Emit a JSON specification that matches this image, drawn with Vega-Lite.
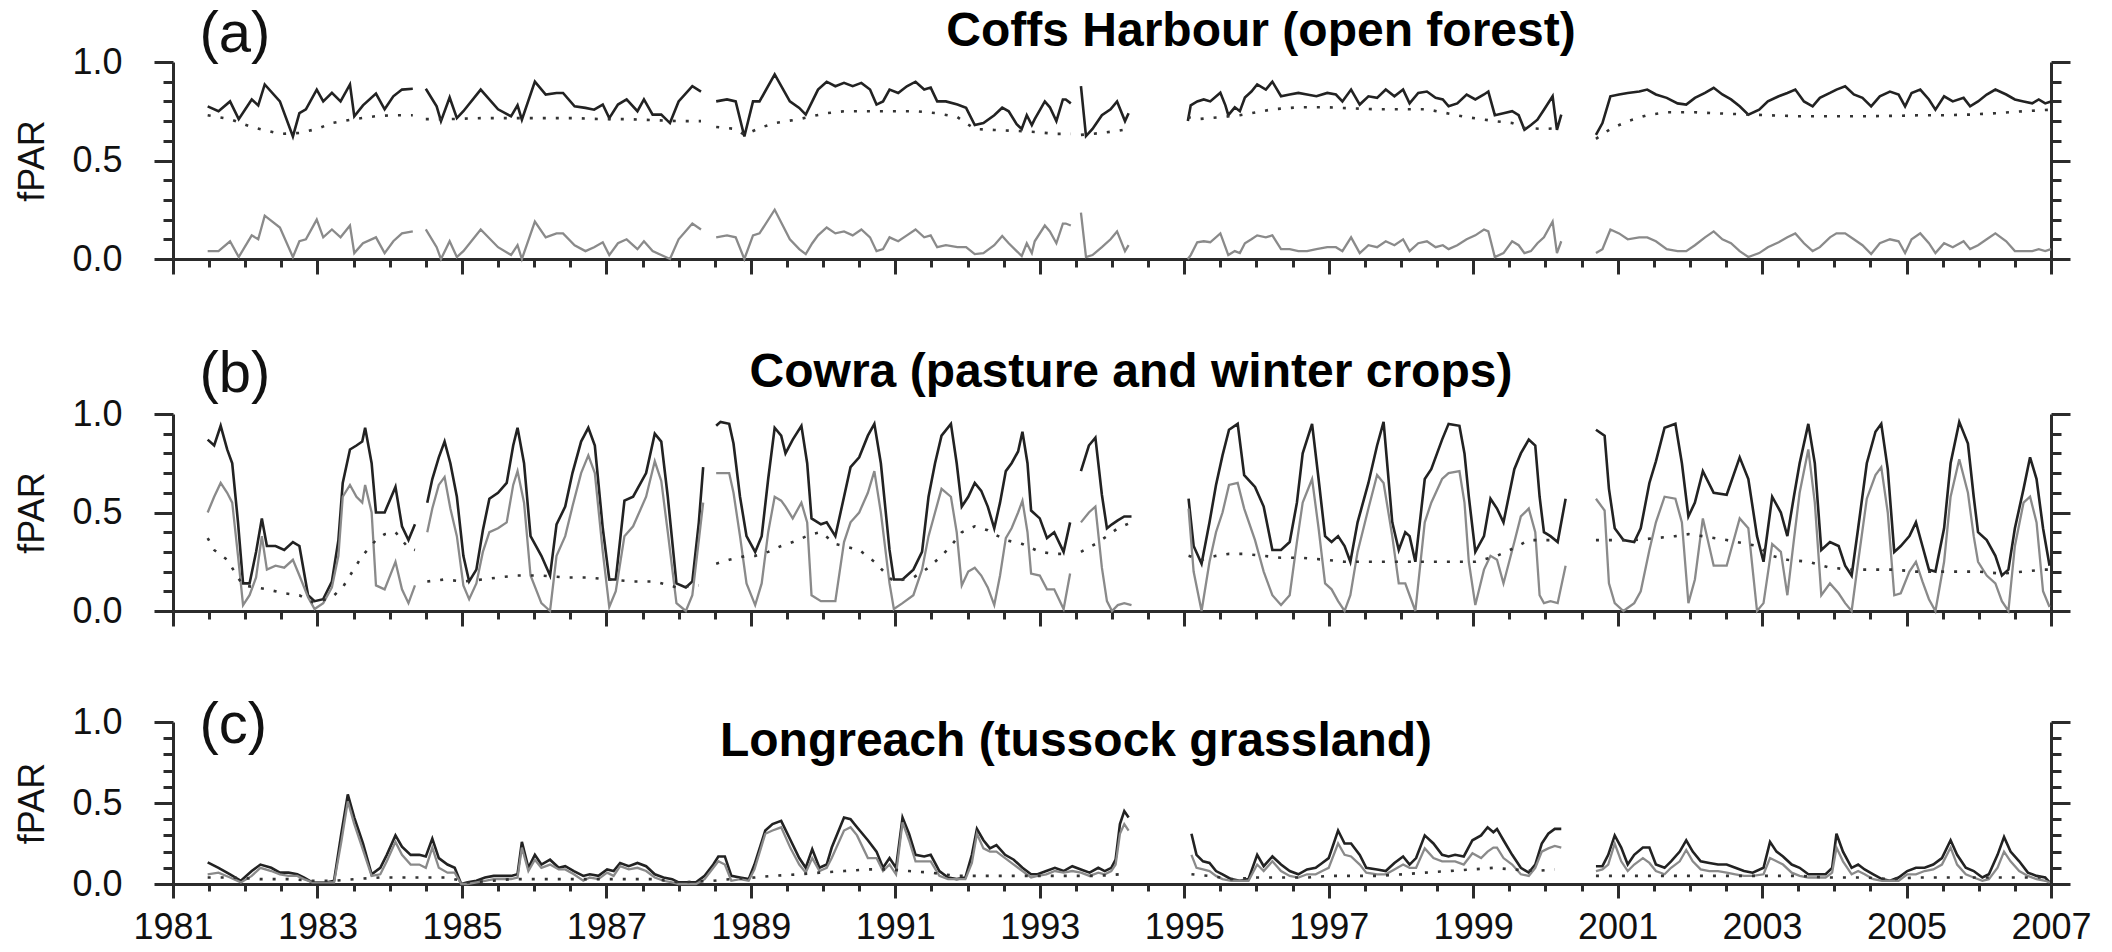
{
"$schema":"https://vega.github.io/schema/vega-lite/v6.json",
"background":"white",
"padding":{"left":14,"top":5,"right":5,"bottom":5},
"config":{"font":"Liberation Sans","view":{"stroke":null},
"axis":{"grid":false,"domainColor":"#2b2b2b","domainWidth":3,"tickColor":"#2b2b2b","tickWidth":3,"labelFont":"Liberation Sans","labelFontSize":36,"labelColor":"#111","titleFont":"Liberation Sans","titleColor":"#111","titleFontWeight":"normal","labelFlush":false,"labelOverlap":false,"labelBound":false},
"title":{"font":"Liberation Sans","fontSize":48,"fontWeight":"bold","color":"#000","anchor":"middle","offset":4}},
"data":{"values":[
{"p":"a","s":1,"t":1981.48,"T":0.775,"R":0.04,"P":0.73},
{"p":"a","s":1,"t":1981.63,"T":0.75,"R":0.04},
{"p":"a","s":1,"t":1981.79,"T":0.80,"R":0.09,"P":0.71},
{"p":"a","s":1,"t":1981.91,"T":0.71,"R":0.01},
{"p":"a","s":1,"t":1982.09,"T":0.81,"R":0.12,"P":0.67},
{"p":"a","s":1,"t":1982.18,"T":0.78,"R":0.10},
{"p":"a","s":1,"t":1982.27,"T":0.886,"R":0.22},
{"p":"a","s":1,"t":1982.48,"T":0.80,"R":0.16,"P":0.635},
{"p":"a","s":1,"t":1982.66,"T":0.622,"R":0.01},
{"p":"a","s":1,"t":1982.75,"T":0.74,"R":0.09,"P":0.64},
{"p":"a","s":1,"t":1982.84,"T":0.76,"R":0.10},
{"p":"a","s":1,"t":1982.99,"T":0.86,"R":0.20,"P":0.66},
{"p":"a","s":1,"t":1983.08,"T":0.80,"R":0.11},
{"p":"a","s":1,"t":1983.20,"T":0.843,"R":0.15,"P":0.69},
{"p":"a","s":1,"t":1983.32,"T":0.80,"R":0.11},
{"p":"a","s":1,"t":1983.45,"T":0.886,"R":0.17},
{"p":"a","s":1,"t":1983.51,"T":0.724,"R":0.03,"P":0.71},
{"p":"a","s":1,"t":1983.63,"T":0.78,"R":0.08},
{"p":"a","s":1,"t":1983.81,"T":0.84,"R":0.11,"P":0.725},
{"p":"a","s":1,"t":1983.93,"T":0.76,"R":0.03},
{"p":"a","s":1,"t":1984.05,"T":0.826,"R":0.09,"P":0.73},
{"p":"a","s":1,"t":1984.17,"T":0.86,"R":0.13},
{"p":"a","s":1,"t":1984.32,"T":0.864,"R":0.14,"P":0.73},
{"p":"a","s":2,"t":1984.50,"T":0.864,"R":0.15,"P":0.71},
{"p":"a","s":2,"t":1984.65,"T":0.775,"R":0.06},
{"p":"a","s":2,"t":1984.71,"T":0.70,"R":0.0},
{"p":"a","s":2,"t":1984.83,"T":0.82,"R":0.09,"P":0.71},
{"p":"a","s":2,"t":1984.93,"T":0.715,"R":0.01},
{"p":"a","s":2,"t":1985.02,"T":0.75,"R":0.04},
{"p":"a","s":2,"t":1985.26,"T":0.86,"R":0.15,"P":0.715},
{"p":"a","s":2,"t":1985.50,"T":0.76,"R":0.06},
{"p":"a","s":2,"t":1985.68,"T":0.724,"R":0.02},
{"p":"a","s":2,"t":1985.77,"T":0.78,"R":0.07,"P":0.715},
{"p":"a","s":2,"t":1985.83,"T":0.707,"R":0.0},
{"p":"a","s":2,"t":1986.01,"T":0.90,"R":0.19},
{"p":"a","s":2,"t":1986.16,"T":0.835,"R":0.11,"P":0.715},
{"p":"a","s":2,"t":1986.31,"T":0.843,"R":0.13},
{"p":"a","s":2,"t":1986.40,"T":0.843,"R":0.13},
{"p":"a","s":2,"t":1986.56,"T":0.775,"R":0.07,"P":0.715},
{"p":"a","s":2,"t":1986.71,"T":0.767,"R":0.04},
{"p":"a","s":2,"t":1986.83,"T":0.758,"R":0.06},
{"p":"a","s":2,"t":1986.95,"T":0.784,"R":0.085,"P":0.71},
{"p":"a","s":2,"t":1987.04,"T":0.715,"R":0.02},
{"p":"a","s":2,"t":1987.16,"T":0.784,"R":0.08},
{"p":"a","s":2,"t":1987.28,"T":0.81,"R":0.10,"P":0.71},
{"p":"a","s":2,"t":1987.43,"T":0.75,"R":0.05},
{"p":"a","s":2,"t":1987.52,"T":0.81,"R":0.09},
{"p":"a","s":2,"t":1987.64,"T":0.733,"R":0.04,"P":0.705},
{"p":"a","s":2,"t":1987.76,"T":0.733,"R":0.02},
{"p":"a","s":2,"t":1987.88,"T":0.69,"R":0.0},
{"p":"a","s":2,"t":1988.00,"T":0.80,"R":0.10,"P":0.70},
{"p":"a","s":2,"t":1988.19,"T":0.877,"R":0.18},
{"p":"a","s":2,"t":1988.31,"T":0.85,"R":0.15,"P":0.70},
{"p":"a","s":3,"t":1988.52,"T":0.80,"R":0.11,"P":0.67},
{"p":"a","s":3,"t":1988.67,"T":0.81,"R":0.12},
{"p":"a","s":3,"t":1988.79,"T":0.80,"R":0.11,"P":0.66},
{"p":"a","s":3,"t":1988.91,"T":0.622,"R":0.0,"P":0.63},
{"p":"a","s":3,"t":1989.03,"T":0.80,"R":0.12},
{"p":"a","s":3,"t":1989.12,"T":0.80,"R":0.13,"P":0.665},
{"p":"a","s":3,"t":1989.33,"T":0.937,"R":0.25,"P":0.69},
{"p":"a","s":3,"t":1989.54,"T":0.80,"R":0.10},
{"p":"a","s":3,"t":1989.67,"T":0.767,"R":0.05,"P":0.71},
{"p":"a","s":3,"t":1989.76,"T":0.733,"R":0.025},
{"p":"a","s":3,"t":1989.85,"T":0.80,"R":0.08,"P":0.725},
{"p":"a","s":3,"t":1989.93,"T":0.86,"R":0.12},
{"p":"a","s":3,"t":1990.05,"T":0.90,"R":0.16,"P":0.74},
{"p":"a","s":3,"t":1990.17,"T":0.877,"R":0.13},
{"p":"a","s":3,"t":1990.29,"T":0.894,"R":0.14,"P":0.75},
{"p":"a","s":3,"t":1990.41,"T":0.877,"R":0.12},
{"p":"a","s":3,"t":1990.53,"T":0.894,"R":0.15},
{"p":"a","s":3,"t":1990.65,"T":0.86,"R":0.11,"P":0.75},
{"p":"a","s":3,"t":1990.74,"T":0.784,"R":0.04},
{"p":"a","s":3,"t":1990.83,"T":0.80,"R":0.05},
{"p":"a","s":3,"t":1990.92,"T":0.86,"R":0.11,"P":0.75},
{"p":"a","s":3,"t":1991.04,"T":0.843,"R":0.09},
{"p":"a","s":3,"t":1991.16,"T":0.877,"R":0.12},
{"p":"a","s":3,"t":1991.28,"T":0.90,"R":0.15,"P":0.75},
{"p":"a","s":3,"t":1991.40,"T":0.86,"R":0.11},
{"p":"a","s":3,"t":1991.49,"T":0.87,"R":0.12},
{"p":"a","s":3,"t":1991.58,"T":0.80,"R":0.06,"P":0.74},
{"p":"a","s":3,"t":1991.70,"T":0.80,"R":0.07},
{"p":"a","s":3,"t":1991.86,"T":0.784,"R":0.06,"P":0.72},
{"p":"a","s":3,"t":1991.98,"T":0.767,"R":0.06},
{"p":"a","s":3,"t":1992.10,"T":0.68,"R":0.025,"P":0.66},
{"p":"a","s":3,"t":1992.22,"T":0.69,"R":0.03},
{"p":"a","s":3,"t":1992.37,"T":0.73,"R":0.07,"P":0.655},
{"p":"a","s":3,"t":1992.48,"T":0.768,"R":0.117},
{"p":"a","s":3,"t":1992.57,"T":0.75,"R":0.08},
{"p":"a","s":3,"t":1992.68,"T":0.684,"R":0.04,"P":0.65},
{"p":"a","s":3,"t":1992.75,"T":0.66,"R":0.015},
{"p":"a","s":3,"t":1992.82,"T":0.73,"R":0.08},
{"p":"a","s":3,"t":1992.89,"T":0.68,"R":0.03},
{"p":"a","s":3,"t":1992.93,"T":0.71,"R":0.09,"P":0.645},
{"p":"a","s":3,"t":1993.07,"T":0.80,"R":0.17},
{"p":"a","s":3,"t":1993.14,"T":0.77,"R":0.14},
{"p":"a","s":3,"t":1993.23,"T":0.70,"R":0.08,"P":0.635},
{"p":"a","s":3,"t":1993.32,"T":0.81,"R":0.18},
{"p":"a","s":3,"t":1993.36,"T":0.81,"R":0.18},
{"p":"a","s":3,"t":1993.43,"T":0.79,"R":0.17,"P":0.635},
{"p":"a","s":4,"t":1993.57,"T":0.878,"R":0.235,"P":0.63},
{"p":"a","s":4,"t":1993.64,"T":0.624,"R":0.01},
{"p":"a","s":4,"t":1993.73,"T":0.66,"R":0.02},
{"p":"a","s":4,"t":1993.86,"T":0.73,"R":0.06,"P":0.64},
{"p":"a","s":4,"t":1993.98,"T":0.76,"R":0.10},
{"p":"a","s":4,"t":1994.07,"T":0.80,"R":0.14,"P":0.65},
{"p":"a","s":4,"t":1994.18,"T":0.70,"R":0.04},
{"p":"a","s":4,"t":1994.23,"T":0.74,"R":0.07,"P":0.66},
{"p":"a","s":5,"t":1995.05,"T":0.70,"R":0.0,"P":0.72},
{"p":"a","s":5,"t":1995.09,"T":0.78,"R":0.02},
{"p":"a","s":5,"t":1995.18,"T":0.80,"R":0.085,"P":0.71},
{"p":"a","s":5,"t":1995.27,"T":0.81,"R":0.09},
{"p":"a","s":5,"t":1995.36,"T":0.80,"R":0.085},
{"p":"a","s":5,"t":1995.50,"T":0.844,"R":0.13,"P":0.72},
{"p":"a","s":5,"t":1995.57,"T":0.78,"R":0.06},
{"p":"a","s":5,"t":1995.61,"T":0.73,"R":0.02},
{"p":"a","s":5,"t":1995.70,"T":0.77,"R":0.04},
{"p":"a","s":5,"t":1995.77,"T":0.75,"R":0.03,"P":0.73},
{"p":"a","s":5,"t":1995.84,"T":0.82,"R":0.08},
{"p":"a","s":5,"t":1995.93,"T":0.85,"R":0.10,"P":0.74},
{"p":"a","s":5,"t":1996.01,"T":0.886,"R":0.12},
{"p":"a","s":5,"t":1996.13,"T":0.86,"R":0.11},
{"p":"a","s":5,"t":1996.22,"T":0.90,"R":0.12,"P":0.76},
{"p":"a","s":5,"t":1996.34,"T":0.826,"R":0.05},
{"p":"a","s":5,"t":1996.46,"T":0.835,"R":0.05},
{"p":"a","s":5,"t":1996.58,"T":0.843,"R":0.04,"P":0.77},
{"p":"a","s":5,"t":1996.70,"T":0.835,"R":0.04},
{"p":"a","s":5,"t":1996.83,"T":0.826,"R":0.05},
{"p":"a","s":5,"t":1996.98,"T":0.843,"R":0.06,"P":0.77},
{"p":"a","s":5,"t":1997.10,"T":0.835,"R":0.06},
{"p":"a","s":5,"t":1997.19,"T":0.80,"R":0.04},
{"p":"a","s":5,"t":1997.31,"T":0.86,"R":0.11,"P":0.765},
{"p":"a","s":5,"t":1997.43,"T":0.784,"R":0.03},
{"p":"a","s":5,"t":1997.55,"T":0.826,"R":0.07},
{"p":"a","s":5,"t":1997.67,"T":0.818,"R":0.06,"P":0.76},
{"p":"a","s":5,"t":1997.79,"T":0.86,"R":0.09},
{"p":"a","s":5,"t":1997.91,"T":0.826,"R":0.07},
{"p":"a","s":5,"t":1998.03,"T":0.86,"R":0.10,"P":0.76},
{"p":"a","s":5,"t":1998.12,"T":0.79,"R":0.04},
{"p":"a","s":5,"t":1998.24,"T":0.843,"R":0.08},
{"p":"a","s":5,"t":1998.36,"T":0.85,"R":0.09,"P":0.76},
{"p":"a","s":5,"t":1998.48,"T":0.818,"R":0.06},
{"p":"a","s":5,"t":1998.58,"T":0.81,"R":0.07},
{"p":"a","s":5,"t":1998.66,"T":0.775,"R":0.05},
{"p":"a","s":5,"t":1998.78,"T":0.79,"R":0.07},
{"p":"a","s":5,"t":1998.91,"T":0.835,"R":0.10,"P":0.72},
{"p":"a","s":5,"t":1999.03,"T":0.81,"R":0.12},
{"p":"a","s":5,"t":1999.15,"T":0.835,"R":0.15},
{"p":"a","s":5,"t":1999.21,"T":0.85,"R":0.14},
{"p":"a","s":5,"t":1999.30,"T":0.73,"R":0.01,"P":0.70},
{"p":"a","s":5,"t":1999.42,"T":0.74,"R":0.03},
{"p":"a","s":5,"t":1999.54,"T":0.75,"R":0.09,"P":0.69},
{"p":"a","s":5,"t":1999.63,"T":0.73,"R":0.07},
{"p":"a","s":5,"t":1999.71,"T":0.656,"R":0.03,"P":0.665},
{"p":"a","s":5,"t":1999.80,"T":0.68,"R":0.04},
{"p":"a","s":5,"t":1999.89,"T":0.707,"R":0.08},
{"p":"a","s":5,"t":1999.98,"T":0.758,"R":0.11,"P":0.66},
{"p":"a","s":5,"t":2000.10,"T":0.826,"R":0.19},
{"p":"a","s":5,"t":2000.16,"T":0.656,"R":0.03},
{"p":"a","s":5,"t":2000.22,"T":0.733,"R":0.09,"P":0.665},
{"p":"a","s":6,"t":2000.70,"T":0.63,"R":0.03,"P":0.61},
{"p":"a","s":6,"t":2000.79,"T":0.69,"R":0.05},
{"p":"a","s":6,"t":2000.90,"T":0.826,"R":0.15,"P":0.66},
{"p":"a","s":6,"t":2001.02,"T":0.835,"R":0.13},
{"p":"a","s":6,"t":2001.14,"T":0.843,"R":0.10,"P":0.70},
{"p":"a","s":6,"t":2001.30,"T":0.85,"R":0.11},
{"p":"a","s":6,"t":2001.41,"T":0.86,"R":0.11,"P":0.73},
{"p":"a","s":6,"t":2001.53,"T":0.835,"R":0.09},
{"p":"a","s":6,"t":2001.68,"T":0.818,"R":0.05,"P":0.745},
{"p":"a","s":6,"t":2001.83,"T":0.79,"R":0.04},
{"p":"a","s":6,"t":2001.95,"T":0.784,"R":0.04},
{"p":"a","s":6,"t":2002.07,"T":0.818,"R":0.07,"P":0.745},
{"p":"a","s":6,"t":2002.21,"T":0.843,"R":0.11},
{"p":"a","s":6,"t":2002.33,"T":0.869,"R":0.14,"P":0.74},
{"p":"a","s":6,"t":2002.45,"T":0.835,"R":0.10},
{"p":"a","s":6,"t":2002.57,"T":0.81,"R":0.08},
{"p":"a","s":6,"t":2002.69,"T":0.775,"R":0.04,"P":0.735},
{"p":"a","s":6,"t":2002.81,"T":0.733,"R":0.01},
{"p":"a","s":6,"t":2002.96,"T":0.758,"R":0.03},
{"p":"a","s":6,"t":2003.08,"T":0.80,"R":0.06,"P":0.73},
{"p":"a","s":6,"t":2003.23,"T":0.826,"R":0.085},
{"p":"a","s":6,"t":2003.35,"T":0.843,"R":0.11},
{"p":"a","s":6,"t":2003.46,"T":0.86,"R":0.13,"P":0.725},
{"p":"a","s":6,"t":2003.58,"T":0.80,"R":0.08},
{"p":"a","s":6,"t":2003.70,"T":0.775,"R":0.04},
{"p":"a","s":6,"t":2003.80,"T":0.818,"R":0.06,"P":0.725},
{"p":"a","s":6,"t":2003.94,"T":0.843,"R":0.11},
{"p":"a","s":6,"t":2004.03,"T":0.86,"R":0.13},
{"p":"a","s":6,"t":2004.15,"T":0.877,"R":0.13,"P":0.725},
{"p":"a","s":6,"t":2004.27,"T":0.835,"R":0.10},
{"p":"a","s":6,"t":2004.39,"T":0.818,"R":0.07},
{"p":"a","s":6,"t":2004.51,"T":0.775,"R":0.025,"P":0.725},
{"p":"a","s":6,"t":2004.63,"T":0.826,"R":0.08},
{"p":"a","s":6,"t":2004.77,"T":0.85,"R":0.10},
{"p":"a","s":6,"t":2004.89,"T":0.835,"R":0.09,"P":0.727},
{"p":"a","s":6,"t":2004.98,"T":0.775,"R":0.03},
{"p":"a","s":6,"t":2005.07,"T":0.843,"R":0.10},
{"p":"a","s":6,"t":2005.19,"T":0.86,"R":0.13,"P":0.73},
{"p":"a","s":6,"t":2005.31,"T":0.81,"R":0.08},
{"p":"a","s":6,"t":2005.40,"T":0.758,"R":0.03},
{"p":"a","s":6,"t":2005.52,"T":0.826,"R":0.08,"P":0.73},
{"p":"a","s":6,"t":2005.64,"T":0.80,"R":0.06},
{"p":"a","s":6,"t":2005.79,"T":0.818,"R":0.09},
{"p":"a","s":6,"t":2005.88,"T":0.775,"R":0.05,"P":0.733},
{"p":"a","s":6,"t":2005.99,"T":0.80,"R":0.07},
{"p":"a","s":6,"t":2006.11,"T":0.835,"R":0.10},
{"p":"a","s":6,"t":2006.23,"T":0.86,"R":0.13,"P":0.74},
{"p":"a","s":6,"t":2006.38,"T":0.835,"R":0.09},
{"p":"a","s":6,"t":2006.50,"T":0.81,"R":0.04},
{"p":"a","s":6,"t":2006.62,"T":0.80,"R":0.04,"P":0.75},
{"p":"a","s":6,"t":2006.74,"T":0.79,"R":0.04},
{"p":"a","s":6,"t":2006.83,"T":0.81,"R":0.05},
{"p":"a","s":6,"t":2006.92,"T":0.79,"R":0.04},
{"p":"a","s":6,"t":2007.00,"T":0.80,"R":0.05,"P":0.758},
{"p":"b","s":1,"t":1981.48,"T":0.87,"R":0.50,"P":0.37},
{"p":"b","s":1,"t":1981.57,"T":0.84,"R":0.58,"P":0.31},
{"p":"b","s":1,"t":1981.66,"T":0.94,"R":0.65},
{"p":"b","s":1,"t":1981.75,"T":0.82,"R":0.60,"P":0.26},
{"p":"b","s":1,"t":1981.82,"T":0.75,"R":0.55},
{"p":"b","s":1,"t":1981.90,"T":0.45,"R":0.28,"P":0.17},
{"p":"b","s":1,"t":1981.97,"T":0.14,"R":0.03,"P":0.13},
{"p":"b","s":1,"t":1982.06,"T":0.14,"R":0.08},
{"p":"b","s":1,"t":1982.15,"T":0.30,"R":0.17,"P":0.12},
{"p":"b","s":1,"t":1982.23,"T":0.47,"R":0.38},
{"p":"b","s":1,"t":1982.30,"T":0.33,"R":0.21,"P":0.11},
{"p":"b","s":1,"t":1982.42,"T":0.33,"R":0.23},
{"p":"b","s":1,"t":1982.54,"T":0.31,"R":0.22,"P":0.09},
{"p":"b","s":1,"t":1982.66,"T":0.35,"R":0.26},
{"p":"b","s":1,"t":1982.75,"T":0.33,"R":0.18,"P":0.08},
{"p":"b","s":1,"t":1982.87,"T":0.08,"R":0.07},
{"p":"b","s":1,"t":1982.96,"T":0.05,"R":0.01,"P":0.04},
{"p":"b","s":1,"t":1983.08,"T":0.06,"R":0.04},
{"p":"b","s":1,"t":1983.20,"T":0.15,"R":0.12,"P":0.07},
{"p":"b","s":1,"t":1983.29,"T":0.36,"R":0.28},
{"p":"b","s":1,"t":1983.35,"T":0.65,"R":0.58,"P":0.12},
{"p":"b","s":1,"t":1983.45,"T":0.82,"R":0.64,"P":0.18},
{"p":"b","s":1,"t":1983.54,"T":0.84,"R":0.58},
{"p":"b","s":1,"t":1983.62,"T":0.86,"R":0.55,"P":0.28},
{"p":"b","s":1,"t":1983.66,"T":0.93,"R":0.64},
{"p":"b","s":1,"t":1983.75,"T":0.75,"R":0.50},
{"p":"b","s":1,"t":1983.81,"T":0.50,"R":0.13,"P":0.36},
{"p":"b","s":1,"t":1983.93,"T":0.50,"R":0.11,"P":0.39},
{"p":"b","s":1,"t":1984.08,"T":0.63,"R":0.25,"P":0.40},
{"p":"b","s":1,"t":1984.17,"T":0.43,"R":0.11},
{"p":"b","s":1,"t":1984.26,"T":0.36,"R":0.04,"P":0.32},
{"p":"b","s":1,"t":1984.35,"T":0.44,"R":0.13,"P":0.31},
{"p":"b","s":2,"t":1984.52,"T":0.55,"R":0.40,"P":0.15},
{"p":"b","s":2,"t":1984.59,"T":0.67,"R":0.52},
{"p":"b","s":2,"t":1984.68,"T":0.78,"R":0.64},
{"p":"b","s":2,"t":1984.76,"T":0.86,"R":0.68,"P":0.16},
{"p":"b","s":2,"t":1984.84,"T":0.75,"R":0.52},
{"p":"b","s":2,"t":1984.93,"T":0.58,"R":0.38},
{"p":"b","s":2,"t":1985.02,"T":0.28,"R":0.13,"P":0.15},
{"p":"b","s":2,"t":1985.10,"T":0.15,"R":0.06},
{"p":"b","s":2,"t":1985.20,"T":0.21,"R":0.14},
{"p":"b","s":2,"t":1985.29,"T":0.41,"R":0.30,"P":0.16},
{"p":"b","s":2,"t":1985.38,"T":0.57,"R":0.40},
{"p":"b","s":2,"t":1985.50,"T":0.60,"R":0.42,"P":0.17},
{"p":"b","s":2,"t":1985.62,"T":0.65,"R":0.45},
{"p":"b","s":2,"t":1985.71,"T":0.84,"R":0.64},
{"p":"b","s":2,"t":1985.77,"T":0.93,"R":0.71,"P":0.18},
{"p":"b","s":2,"t":1985.86,"T":0.75,"R":0.55},
{"p":"b","s":2,"t":1985.95,"T":0.38,"R":0.18},
{"p":"b","s":2,"t":1986.10,"T":0.28,"R":0.04,"P":0.18},
{"p":"b","s":2,"t":1986.22,"T":0.18,"R":0.0},
{"p":"b","s":2,"t":1986.31,"T":0.44,"R":0.28},
{"p":"b","s":2,"t":1986.43,"T":0.53,"R":0.38,"P":0.17},
{"p":"b","s":2,"t":1986.53,"T":0.70,"R":0.53},
{"p":"b","s":2,"t":1986.65,"T":0.86,"R":0.70},
{"p":"b","s":2,"t":1986.75,"T":0.93,"R":0.79,"P":0.17},
{"p":"b","s":2,"t":1986.84,"T":0.84,"R":0.70},
{"p":"b","s":2,"t":1986.95,"T":0.42,"R":0.30},
{"p":"b","s":2,"t":1987.04,"T":0.16,"R":0.02,"P":0.16},
{"p":"b","s":2,"t":1987.13,"T":0.16,"R":0.10},
{"p":"b","s":2,"t":1987.25,"T":0.56,"R":0.38},
{"p":"b","s":2,"t":1987.37,"T":0.58,"R":0.43,"P":0.15},
{"p":"b","s":2,"t":1987.55,"T":0.70,"R":0.58},
{"p":"b","s":2,"t":1987.67,"T":0.90,"R":0.76,"P":0.15},
{"p":"b","s":2,"t":1987.76,"T":0.86,"R":0.66},
{"p":"b","s":2,"t":1987.85,"T":0.58,"R":0.40},
{"p":"b","s":2,"t":1987.97,"T":0.14,"R":0.04,"P":0.12},
{"p":"b","s":2,"t":1988.10,"T":0.12,"R":0.0},
{"p":"b","s":2,"t":1988.19,"T":0.15,"R":0.08},
{"p":"b","s":2,"t":1988.28,"T":0.45,"R":0.36,"P":0.13},
{"p":"b","s":2,"t":1988.34,"T":0.73,"R":0.55},
{"p":"b","s":3,"t":1988.52,"T":0.94,"R":0.70,"P":0.24},
{"p":"b","s":3,"t":1988.58,"T":0.96,"R":0.70},
{"p":"b","s":3,"t":1988.70,"T":0.95,"R":0.70,"P":0.26},
{"p":"b","s":3,"t":1988.76,"T":0.85,"R":0.60},
{"p":"b","s":3,"t":1988.85,"T":0.58,"R":0.38},
{"p":"b","s":3,"t":1988.94,"T":0.38,"R":0.14,"P":0.28},
{"p":"b","s":3,"t":1989.06,"T":0.30,"R":0.03,"P":0.28},
{"p":"b","s":3,"t":1989.15,"T":0.38,"R":0.14},
{"p":"b","s":3,"t":1989.24,"T":0.67,"R":0.40,"P":0.30},
{"p":"b","s":3,"t":1989.33,"T":0.93,"R":0.58},
{"p":"b","s":3,"t":1989.42,"T":0.89,"R":0.56,"P":0.33},
{"p":"b","s":3,"t":1989.48,"T":0.80,"R":0.53},
{"p":"b","s":3,"t":1989.58,"T":0.87,"R":0.47,"P":0.35},
{"p":"b","s":3,"t":1989.70,"T":0.94,"R":0.55},
{"p":"b","s":3,"t":1989.78,"T":0.75,"R":0.45},
{"p":"b","s":3,"t":1989.84,"T":0.47,"R":0.08,"P":0.39},
{"p":"b","s":3,"t":1989.97,"T":0.44,"R":0.05,"P":0.40},
{"p":"b","s":3,"t":1990.05,"T":0.45,"R":0.05},
{"p":"b","s":3,"t":1990.17,"T":0.38,"R":0.05,"P":0.34},
{"p":"b","s":3,"t":1990.29,"T":0.58,"R":0.35},
{"p":"b","s":3,"t":1990.38,"T":0.73,"R":0.45},
{"p":"b","s":3,"t":1990.50,"T":0.78,"R":0.50,"P":0.31},
{"p":"b","s":3,"t":1990.62,"T":0.89,"R":0.60},
{"p":"b","s":3,"t":1990.71,"T":0.95,"R":0.71,"P":0.25},
{"p":"b","s":3,"t":1990.80,"T":0.75,"R":0.50},
{"p":"b","s":3,"t":1990.92,"T":0.31,"R":0.14,"P":0.17},
{"p":"b","s":3,"t":1990.98,"T":0.16,"R":0.01,"P":0.15},
{"p":"b","s":3,"t":1991.10,"T":0.16,"R":0.04},
{"p":"b","s":3,"t":1991.25,"T":0.21,"R":0.08,"P":0.17},
{"p":"b","s":3,"t":1991.37,"T":0.30,"R":0.21},
{"p":"b","s":3,"t":1991.46,"T":0.58,"R":0.38,"P":0.22},
{"p":"b","s":3,"t":1991.55,"T":0.75,"R":0.50},
{"p":"b","s":3,"t":1991.64,"T":0.89,"R":0.62,"P":0.28},
{"p":"b","s":3,"t":1991.77,"T":0.95,"R":0.58,"P":0.33},
{"p":"b","s":3,"t":1991.85,"T":0.75,"R":0.40},
{"p":"b","s":3,"t":1991.92,"T":0.53,"R":0.13,"P":0.40},
{"p":"b","s":3,"t":1992.01,"T":0.58,"R":0.20},
{"p":"b","s":3,"t":1992.10,"T":0.65,"R":0.22,"P":0.43},
{"p":"b","s":3,"t":1992.19,"T":0.61,"R":0.18},
{"p":"b","s":3,"t":1992.28,"T":0.53,"R":0.12,"P":0.41},
{"p":"b","s":3,"t":1992.37,"T":0.42,"R":0.03,"P":0.39},
{"p":"b","s":3,"t":1992.45,"T":0.55,"R":0.18},
{"p":"b","s":3,"t":1992.53,"T":0.71,"R":0.37,"P":0.36},
{"p":"b","s":3,"t":1992.61,"T":0.75,"R":0.42},
{"p":"b","s":3,"t":1992.70,"T":0.81,"R":0.50},
{"p":"b","s":3,"t":1992.76,"T":0.91,"R":0.56,"P":0.34},
{"p":"b","s":3,"t":1992.83,"T":0.75,"R":0.40},
{"p":"b","s":3,"t":1992.88,"T":0.51,"R":0.19,"P":0.32},
{"p":"b","s":3,"t":1993.00,"T":0.47,"R":0.18,"P":0.30},
{"p":"b","s":3,"t":1993.10,"T":0.37,"R":0.11},
{"p":"b","s":3,"t":1993.20,"T":0.40,"R":0.11,"P":0.29},
{"p":"b","s":3,"t":1993.33,"T":0.30,"R":0.01},
{"p":"b","s":3,"t":1993.42,"T":0.45,"R":0.19,"P":0.29},
{"p":"b","s":4,"t":1993.57,"T":0.71,"R":0.45,"P":0.30},
{"p":"b","s":4,"t":1993.68,"T":0.84,"R":0.50},
{"p":"b","s":4,"t":1993.77,"T":0.88,"R":0.53,"P":0.34},
{"p":"b","s":4,"t":1993.86,"T":0.59,"R":0.22},
{"p":"b","s":4,"t":1993.93,"T":0.42,"R":0.05,"P":0.38},
{"p":"b","s":4,"t":1994.00,"T":0.44,"R":0.0},
{"p":"b","s":4,"t":1994.08,"T":0.46,"R":0.03,"P":0.42},
{"p":"b","s":4,"t":1994.17,"T":0.48,"R":0.04},
{"p":"b","s":4,"t":1994.27,"T":0.48,"R":0.03,"P":0.45},
{"p":"b","s":5,"t":1995.06,"T":0.57,"R":0.52,"P":0.28},
{"p":"b","s":5,"t":1995.13,"T":0.33,"R":0.20},
{"p":"b","s":5,"t":1995.24,"T":0.24,"R":0.0,"P":0.26},
{"p":"b","s":5,"t":1995.35,"T":0.45,"R":0.25},
{"p":"b","s":5,"t":1995.44,"T":0.64,"R":0.40,"P":0.28},
{"p":"b","s":5,"t":1995.53,"T":0.79,"R":0.50},
{"p":"b","s":5,"t":1995.62,"T":0.92,"R":0.64,"P":0.29},
{"p":"b","s":5,"t":1995.74,"T":0.95,"R":0.65},
{"p":"b","s":5,"t":1995.83,"T":0.69,"R":0.52,"P":0.29},
{"p":"b","s":5,"t":1995.98,"T":0.63,"R":0.36},
{"p":"b","s":5,"t":1996.10,"T":0.53,"R":0.20,"P":0.28},
{"p":"b","s":5,"t":1996.22,"T":0.31,"R":0.08},
{"p":"b","s":5,"t":1996.34,"T":0.31,"R":0.03,"P":0.27},
{"p":"b","s":5,"t":1996.46,"T":0.35,"R":0.08},
{"p":"b","s":5,"t":1996.56,"T":0.55,"R":0.35},
{"p":"b","s":5,"t":1996.64,"T":0.80,"R":0.55,"P":0.27},
{"p":"b","s":5,"t":1996.77,"T":0.95,"R":0.67},
{"p":"b","s":5,"t":1996.86,"T":0.67,"R":0.42},
{"p":"b","s":5,"t":1996.95,"T":0.38,"R":0.14,"P":0.26},
{"p":"b","s":5,"t":1997.04,"T":0.35,"R":0.11},
{"p":"b","s":5,"t":1997.13,"T":0.38,"R":0.05},
{"p":"b","s":5,"t":1997.22,"T":0.33,"R":0.0,"P":0.25},
{"p":"b","s":5,"t":1997.30,"T":0.25,"R":0.08},
{"p":"b","s":5,"t":1997.40,"T":0.45,"R":0.30},
{"p":"b","s":5,"t":1997.55,"T":0.65,"R":0.52,"P":0.25},
{"p":"b","s":5,"t":1997.67,"T":0.84,"R":0.69},
{"p":"b","s":5,"t":1997.76,"T":0.96,"R":0.65,"P":0.25},
{"p":"b","s":5,"t":1997.88,"T":0.45,"R":0.38},
{"p":"b","s":5,"t":1997.97,"T":0.31,"R":0.14},
{"p":"b","s":5,"t":1998.06,"T":0.40,"R":0.14,"P":0.25},
{"p":"b","s":5,"t":1998.12,"T":0.38,"R":0.08},
{"p":"b","s":5,"t":1998.20,"T":0.25,"R":0.0},
{"p":"b","s":5,"t":1998.33,"T":0.67,"R":0.45,"P":0.25},
{"p":"b","s":5,"t":1998.42,"T":0.72,"R":0.55},
{"p":"b","s":5,"t":1998.57,"T":0.87,"R":0.67},
{"p":"b","s":5,"t":1998.66,"T":0.95,"R":0.70,"P":0.25},
{"p":"b","s":5,"t":1998.81,"T":0.94,"R":0.71},
{"p":"b","s":5,"t":1998.88,"T":0.80,"R":0.55},
{"p":"b","s":5,"t":1998.94,"T":0.58,"R":0.25},
{"p":"b","s":5,"t":1999.03,"T":0.30,"R":0.03,"P":0.25},
{"p":"b","s":5,"t":1999.15,"T":0.38,"R":0.21},
{"p":"b","s":5,"t":1999.24,"T":0.57,"R":0.28},
{"p":"b","s":5,"t":1999.33,"T":0.52,"R":0.26,"P":0.28},
{"p":"b","s":5,"t":1999.42,"T":0.45,"R":0.14},
{"p":"b","s":5,"t":1999.57,"T":0.72,"R":0.35,"P":0.32},
{"p":"b","s":5,"t":1999.66,"T":0.80,"R":0.48},
{"p":"b","s":5,"t":1999.77,"T":0.87,"R":0.52,"P":0.36},
{"p":"b","s":5,"t":1999.86,"T":0.84,"R":0.40},
{"p":"b","s":5,"t":1999.92,"T":0.58,"R":0.08},
{"p":"b","s":5,"t":1999.98,"T":0.40,"R":0.04,"P":0.36},
{"p":"b","s":5,"t":2000.07,"T":0.38,"R":0.05},
{"p":"b","s":5,"t":2000.17,"T":0.35,"R":0.04,"P":0.36},
{"p":"b","s":5,"t":2000.28,"T":0.57,"R":0.23},
{"p":"b","s":6,"t":2000.70,"T":0.92,"R":0.57,"P":0.36},
{"p":"b","s":6,"t":2000.82,"T":0.89,"R":0.51},
{"p":"b","s":6,"t":2000.88,"T":0.62,"R":0.14},
{"p":"b","s":6,"t":2000.96,"T":0.42,"R":0.04,"P":0.36},
{"p":"b","s":6,"t":2001.08,"T":0.36,"R":0.0},
{"p":"b","s":6,"t":2001.23,"T":0.35,"R":0.04,"P":0.36},
{"p":"b","s":6,"t":2001.32,"T":0.42,"R":0.10},
{"p":"b","s":6,"t":2001.44,"T":0.65,"R":0.31},
{"p":"b","s":6,"t":2001.53,"T":0.76,"R":0.45,"P":0.37},
{"p":"b","s":6,"t":2001.65,"T":0.93,"R":0.58},
{"p":"b","s":6,"t":2001.80,"T":0.95,"R":0.57,"P":0.38},
{"p":"b","s":6,"t":2001.89,"T":0.75,"R":0.45},
{"p":"b","s":6,"t":2001.98,"T":0.48,"R":0.04,"P":0.39},
{"p":"b","s":6,"t":2002.07,"T":0.55,"R":0.16},
{"p":"b","s":6,"t":2002.18,"T":0.71,"R":0.47,"P":0.38},
{"p":"b","s":6,"t":2002.33,"T":0.60,"R":0.23},
{"p":"b","s":6,"t":2002.51,"T":0.59,"R":0.23,"P":0.36},
{"p":"b","s":6,"t":2002.69,"T":0.78,"R":0.47},
{"p":"b","s":6,"t":2002.81,"T":0.67,"R":0.42},
{"p":"b","s":6,"t":2002.93,"T":0.38,"R":0.0,"P":0.33},
{"p":"b","s":6,"t":2003.02,"T":0.25,"R":0.04},
{"p":"b","s":6,"t":2003.14,"T":0.58,"R":0.34,"P":0.28},
{"p":"b","s":6,"t":2003.26,"T":0.50,"R":0.30},
{"p":"b","s":6,"t":2003.35,"T":0.38,"R":0.08,"P":0.26},
{"p":"b","s":6,"t":2003.44,"T":0.58,"R":0.36},
{"p":"b","s":6,"t":2003.52,"T":0.75,"R":0.60},
{"p":"b","s":6,"t":2003.64,"T":0.95,"R":0.82,"P":0.25},
{"p":"b","s":6,"t":2003.73,"T":0.75,"R":0.55},
{"p":"b","s":6,"t":2003.82,"T":0.31,"R":0.08},
{"p":"b","s":6,"t":2003.94,"T":0.35,"R":0.14,"P":0.22},
{"p":"b","s":6,"t":2004.06,"T":0.33,"R":0.09},
{"p":"b","s":6,"t":2004.15,"T":0.23,"R":0.04},
{"p":"b","s":6,"t":2004.24,"T":0.18,"R":0.0,"P":0.21},
{"p":"b","s":6,"t":2004.33,"T":0.42,"R":0.25},
{"p":"b","s":6,"t":2004.45,"T":0.75,"R":0.57},
{"p":"b","s":6,"t":2004.57,"T":0.91,"R":0.69,"P":0.21},
{"p":"b","s":6,"t":2004.65,"T":0.95,"R":0.73},
{"p":"b","s":6,"t":2004.74,"T":0.72,"R":0.50},
{"p":"b","s":6,"t":2004.83,"T":0.30,"R":0.08,"P":0.21},
{"p":"b","s":6,"t":2004.92,"T":0.33,"R":0.09},
{"p":"b","s":6,"t":2005.04,"T":0.38,"R":0.20},
{"p":"b","s":6,"t":2005.13,"T":0.45,"R":0.25,"P":0.20},
{"p":"b","s":6,"t":2005.22,"T":0.33,"R":0.15},
{"p":"b","s":6,"t":2005.31,"T":0.21,"R":0.06},
{"p":"b","s":6,"t":2005.40,"T":0.20,"R":0.0,"P":0.20},
{"p":"b","s":6,"t":2005.52,"T":0.42,"R":0.25},
{"p":"b","s":6,"t":2005.61,"T":0.75,"R":0.58},
{"p":"b","s":6,"t":2005.73,"T":0.96,"R":0.77,"P":0.20},
{"p":"b","s":6,"t":2005.85,"T":0.85,"R":0.60},
{"p":"b","s":6,"t":2005.93,"T":0.58,"R":0.38},
{"p":"b","s":6,"t":2005.99,"T":0.40,"R":0.25,"P":0.20},
{"p":"b","s":6,"t":2006.11,"T":0.36,"R":0.18},
{"p":"b","s":6,"t":2006.23,"T":0.28,"R":0.14},
{"p":"b","s":6,"t":2006.32,"T":0.18,"R":0.05,"P":0.19},
{"p":"b","s":6,"t":2006.41,"T":0.21,"R":0.0},
{"p":"b","s":6,"t":2006.50,"T":0.42,"R":0.33},
{"p":"b","s":6,"t":2006.62,"T":0.62,"R":0.55,"P":0.20},
{"p":"b","s":6,"t":2006.71,"T":0.78,"R":0.58},
{"p":"b","s":6,"t":2006.80,"T":0.67,"R":0.45},
{"p":"b","s":6,"t":2006.89,"T":0.42,"R":0.10,"P":0.21},
{"p":"b","s":6,"t":2006.98,"T":0.23,"R":0.02,"P":0.21},
{"p":"c","s":1,"t":1981.48,"T":0.133,"R":0.06,"P":0.04},
{"p":"c","s":1,"t":1981.63,"T":0.10,"R":0.07},
{"p":"c","s":1,"t":1981.79,"T":0.06,"R":0.04,"P":0.04},
{"p":"c","s":1,"t":1981.94,"T":0.02,"R":0.01},
{"p":"c","s":1,"t":1982.09,"T":0.08,"R":0.05},
{"p":"c","s":1,"t":1982.21,"T":0.12,"R":0.10,"P":0.03},
{"p":"c","s":1,"t":1982.36,"T":0.10,"R":0.08},
{"p":"c","s":1,"t":1982.48,"T":0.07,"R":0.06},
{"p":"c","s":1,"t":1982.60,"T":0.07,"R":0.05,"P":0.03},
{"p":"c","s":1,"t":1982.72,"T":0.06,"R":0.05},
{"p":"c","s":1,"t":1982.81,"T":0.04,"R":0.03},
{"p":"c","s":1,"t":1982.93,"T":0.01,"R":0.01,"P":0.02},
{"p":"c","s":1,"t":1983.05,"T":0.01,"R":0.01},
{"p":"c","s":1,"t":1983.14,"T":0.01,"R":0.01},
{"p":"c","s":1,"t":1983.23,"T":0.02,"R":0.01,"P":0.02},
{"p":"c","s":1,"t":1983.33,"T":0.31,"R":0.26},
{"p":"c","s":1,"t":1983.42,"T":0.553,"R":0.51},
{"p":"c","s":1,"t":1983.51,"T":0.41,"R":0.37,"P":0.03},
{"p":"c","s":1,"t":1983.63,"T":0.25,"R":0.21},
{"p":"c","s":1,"t":1983.75,"T":0.06,"R":0.05},
{"p":"c","s":1,"t":1983.87,"T":0.10,"R":0.06,"P":0.04},
{"p":"c","s":1,"t":1983.96,"T":0.18,"R":0.14},
{"p":"c","s":1,"t":1984.08,"T":0.30,"R":0.26},
{"p":"c","s":1,"t":1984.17,"T":0.23,"R":0.18,"P":0.04},
{"p":"c","s":1,"t":1984.29,"T":0.18,"R":0.12},
{"p":"c","s":1,"t":1984.41,"T":0.18,"R":0.12},
{"p":"c","s":1,"t":1984.50,"T":0.17,"R":0.10,"P":0.04},
{"p":"c","s":1,"t":1984.59,"T":0.28,"R":0.225},
{"p":"c","s":1,"t":1984.68,"T":0.16,"R":0.10},
{"p":"c","s":1,"t":1984.80,"T":0.12,"R":0.07,"P":0.04},
{"p":"c","s":1,"t":1984.90,"T":0.10,"R":0.07},
{"p":"c","s":1,"t":1984.99,"T":0.0,"R":0.0},
{"p":"c","s":1,"t":1985.08,"T":0.01,"R":0.0,"P":0.01},
{"p":"c","s":1,"t":1985.20,"T":0.02,"R":0.01},
{"p":"c","s":1,"t":1985.32,"T":0.04,"R":0.02},
{"p":"c","s":1,"t":1985.44,"T":0.05,"R":0.03,"P":0.02},
{"p":"c","s":1,"t":1985.56,"T":0.05,"R":0.03},
{"p":"c","s":1,"t":1985.68,"T":0.05,"R":0.03,"P":0.03},
{"p":"c","s":1,"t":1985.77,"T":0.06,"R":0.04},
{"p":"c","s":1,"t":1985.83,"T":0.26,"R":0.225},
{"p":"c","s":1,"t":1985.92,"T":0.10,"R":0.08},
{"p":"c","s":1,"t":1986.01,"T":0.18,"R":0.15,"P":0.03},
{"p":"c","s":1,"t":1986.10,"T":0.12,"R":0.10},
{"p":"c","s":1,"t":1986.22,"T":0.15,"R":0.12},
{"p":"c","s":1,"t":1986.34,"T":0.10,"R":0.09,"P":0.03},
{"p":"c","s":1,"t":1986.43,"T":0.11,"R":0.09},
{"p":"c","s":1,"t":1986.55,"T":0.08,"R":0.06},
{"p":"c","s":1,"t":1986.68,"T":0.05,"R":0.02,"P":0.03},
{"p":"c","s":1,"t":1986.77,"T":0.06,"R":0.04},
{"p":"c","s":1,"t":1986.89,"T":0.05,"R":0.03},
{"p":"c","s":1,"t":1987.01,"T":0.09,"R":0.07,"P":0.03},
{"p":"c","s":1,"t":1987.10,"T":0.08,"R":0.05},
{"p":"c","s":1,"t":1987.19,"T":0.13,"R":0.11},
{"p":"c","s":1,"t":1987.31,"T":0.11,"R":0.09,"P":0.03},
{"p":"c","s":1,"t":1987.43,"T":0.13,"R":0.10},
{"p":"c","s":1,"t":1987.55,"T":0.11,"R":0.08},
{"p":"c","s":1,"t":1987.67,"T":0.06,"R":0.04,"P":0.03},
{"p":"c","s":1,"t":1987.79,"T":0.04,"R":0.02},
{"p":"c","s":1,"t":1987.91,"T":0.03,"R":0.01},
{"p":"c","s":1,"t":1988.00,"T":0.01,"R":0.0,"P":0.01},
{"p":"c","s":1,"t":1988.12,"T":0.01,"R":0.0},
{"p":"c","s":1,"t":1988.24,"T":0.01,"R":0.0},
{"p":"c","s":1,"t":1988.36,"T":0.05,"R":0.03},
{"p":"c","s":1,"t":1988.48,"T":0.12,"R":0.10,"P":0.02},
{"p":"c","s":1,"t":1988.55,"T":0.17,"R":0.14},
{"p":"c","s":1,"t":1988.64,"T":0.17,"R":0.12},
{"p":"c","s":1,"t":1988.73,"T":0.05,"R":0.02,"P":0.03},
{"p":"c","s":1,"t":1988.85,"T":0.04,"R":0.03},
{"p":"c","s":1,"t":1988.97,"T":0.03,"R":0.02},
{"p":"c","s":1,"t":1989.05,"T":0.12,"R":0.09,"P":0.04},
{"p":"c","s":1,"t":1989.20,"T":0.33,"R":0.31},
{"p":"c","s":1,"t":1989.30,"T":0.37,"R":0.33,"P":0.05},
{"p":"c","s":1,"t":1989.42,"T":0.39,"R":0.35},
{"p":"c","s":1,"t":1989.55,"T":0.27,"R":0.22},
{"p":"c","s":1,"t":1989.67,"T":0.16,"R":0.12,"P":0.06},
{"p":"c","s":1,"t":1989.76,"T":0.10,"R":0.07},
{"p":"c","s":1,"t":1989.85,"T":0.215,"R":0.16},
{"p":"c","s":1,"t":1989.95,"T":0.10,"R":0.08,"P":0.07},
{"p":"c","s":1,"t":1990.05,"T":0.12,"R":0.10},
{"p":"c","s":1,"t":1990.12,"T":0.225,"R":0.16},
{"p":"c","s":1,"t":1990.29,"T":0.41,"R":0.33,"P":0.08},
{"p":"c","s":1,"t":1990.38,"T":0.40,"R":0.35},
{"p":"c","s":1,"t":1990.47,"T":0.35,"R":0.30},
{"p":"c","s":1,"t":1990.62,"T":0.27,"R":0.16,"P":0.09},
{"p":"c","s":1,"t":1990.74,"T":0.20,"R":0.16},
{"p":"c","s":1,"t":1990.83,"T":0.10,"R":0.08},
{"p":"c","s":1,"t":1990.92,"T":0.16,"R":0.12,"P":0.09},
{"p":"c","s":1,"t":1991.01,"T":0.10,"R":0.06},
{"p":"c","s":1,"t":1991.10,"T":0.41,"R":0.38},
{"p":"c","s":1,"t":1991.19,"T":0.31,"R":0.27,"P":0.08},
{"p":"c","s":1,"t":1991.28,"T":0.18,"R":0.14},
{"p":"c","s":1,"t":1991.40,"T":0.17,"R":0.14},
{"p":"c","s":1,"t":1991.49,"T":0.18,"R":0.14,"P":0.07},
{"p":"c","s":1,"t":1991.61,"T":0.08,"R":0.05},
{"p":"c","s":1,"t":1991.73,"T":0.04,"R":0.03},
{"p":"c","s":1,"t":1991.85,"T":0.03,"R":0.03,"P":0.05},
{"p":"c","s":1,"t":1991.97,"T":0.04,"R":0.03},
{"p":"c","s":1,"t":1992.06,"T":0.18,"R":0.13},
{"p":"c","s":1,"t":1992.13,"T":0.34,"R":0.31,"P":0.05},
{"p":"c","s":1,"t":1992.22,"T":0.27,"R":0.22},
{"p":"c","s":1,"t":1992.31,"T":0.22,"R":0.20},
{"p":"c","s":1,"t":1992.40,"T":0.24,"R":0.20,"P":0.05},
{"p":"c","s":1,"t":1992.52,"T":0.18,"R":0.16},
{"p":"c","s":1,"t":1992.64,"T":0.15,"R":0.12},
{"p":"c","s":1,"t":1992.76,"T":0.10,"R":0.08,"P":0.05},
{"p":"c","s":1,"t":1992.88,"T":0.06,"R":0.04},
{"p":"c","s":1,"t":1992.97,"T":0.06,"R":0.05},
{"p":"c","s":1,"t":1993.09,"T":0.08,"R":0.06,"P":0.05},
{"p":"c","s":1,"t":1993.21,"T":0.10,"R":0.08},
{"p":"c","s":1,"t":1993.33,"T":0.08,"R":0.07},
{"p":"c","s":1,"t":1993.45,"T":0.11,"R":0.08,"P":0.05},
{"p":"c","s":1,"t":1993.57,"T":0.09,"R":0.07},
{"p":"c","s":1,"t":1993.69,"T":0.07,"R":0.05},
{"p":"c","s":1,"t":1993.81,"T":0.10,"R":0.07,"P":0.05},
{"p":"c","s":1,"t":1993.90,"T":0.08,"R":0.06},
{"p":"c","s":1,"t":1993.99,"T":0.10,"R":0.08},
{"p":"c","s":1,"t":1994.05,"T":0.15,"R":0.12},
{"p":"c","s":1,"t":1994.11,"T":0.37,"R":0.31,"P":0.06},
{"p":"c","s":1,"t":1994.17,"T":0.45,"R":0.37},
{"p":"c","s":1,"t":1994.23,"T":0.41,"R":0.33,"P":0.06},
{"p":"c","s":2,"t":1995.10,"T":0.31,"R":0.18,"P":0.06},
{"p":"c","s":2,"t":1995.17,"T":0.18,"R":0.10},
{"p":"c","s":2,"t":1995.26,"T":0.14,"R":0.09},
{"p":"c","s":2,"t":1995.35,"T":0.13,"R":0.08,"P":0.05},
{"p":"c","s":2,"t":1995.44,"T":0.08,"R":0.05},
{"p":"c","s":2,"t":1995.53,"T":0.06,"R":0.03},
{"p":"c","s":2,"t":1995.65,"T":0.03,"R":0.02,"P":0.03},
{"p":"c","s":2,"t":1995.77,"T":0.02,"R":0.02},
{"p":"c","s":2,"t":1995.89,"T":0.03,"R":0.02},
{"p":"c","s":2,"t":1996.01,"T":0.18,"R":0.12,"P":0.04},
{"p":"c","s":2,"t":1996.10,"T":0.11,"R":0.08},
{"p":"c","s":2,"t":1996.22,"T":0.17,"R":0.14},
{"p":"c","s":2,"t":1996.34,"T":0.12,"R":0.08,"P":0.04},
{"p":"c","s":2,"t":1996.46,"T":0.08,"R":0.05},
{"p":"c","s":2,"t":1996.58,"T":0.06,"R":0.04},
{"p":"c","s":2,"t":1996.70,"T":0.09,"R":0.06,"P":0.04},
{"p":"c","s":2,"t":1996.82,"T":0.10,"R":0.06},
{"p":"c","s":2,"t":1996.91,"T":0.13,"R":0.08},
{"p":"c","s":2,"t":1997.00,"T":0.16,"R":0.10,"P":0.05},
{"p":"c","s":2,"t":1997.13,"T":0.33,"R":0.25},
{"p":"c","s":2,"t":1997.22,"T":0.25,"R":0.18},
{"p":"c","s":2,"t":1997.31,"T":0.25,"R":0.17,"P":0.05},
{"p":"c","s":2,"t":1997.43,"T":0.18,"R":0.12},
{"p":"c","s":2,"t":1997.52,"T":0.10,"R":0.07},
{"p":"c","s":2,"t":1997.67,"T":0.09,"R":0.06,"P":0.05},
{"p":"c","s":2,"t":1997.79,"T":0.08,"R":0.06},
{"p":"c","s":2,"t":1997.91,"T":0.13,"R":0.09},
{"p":"c","s":2,"t":1998.03,"T":0.17,"R":0.12,"P":0.06},
{"p":"c","s":2,"t":1998.12,"T":0.12,"R":0.10},
{"p":"c","s":2,"t":1998.21,"T":0.16,"R":0.10},
{"p":"c","s":2,"t":1998.33,"T":0.30,"R":0.22,"P":0.07},
{"p":"c","s":2,"t":1998.45,"T":0.25,"R":0.16},
{"p":"c","s":2,"t":1998.57,"T":0.18,"R":0.14},
{"p":"c","s":2,"t":1998.66,"T":0.17,"R":0.14,"P":0.08},
{"p":"c","s":2,"t":1998.75,"T":0.18,"R":0.14},
{"p":"c","s":2,"t":1998.87,"T":0.17,"R":0.12},
{"p":"c","s":2,"t":1998.99,"T":0.27,"R":0.19,"P":0.09},
{"p":"c","s":2,"t":1999.11,"T":0.30,"R":0.16},
{"p":"c","s":2,"t":1999.20,"T":0.35,"R":0.20},
{"p":"c","s":2,"t":1999.28,"T":0.32,"R":0.225,"P":0.10},
{"p":"c","s":2,"t":1999.33,"T":0.34,"R":0.225},
{"p":"c","s":2,"t":1999.42,"T":0.27,"R":0.16},
{"p":"c","s":2,"t":1999.54,"T":0.18,"R":0.12,"P":0.09},
{"p":"c","s":2,"t":1999.66,"T":0.10,"R":0.06},
{"p":"c","s":2,"t":1999.77,"T":0.07,"R":0.05},
{"p":"c","s":2,"t":1999.86,"T":0.12,"R":0.10,"P":0.08},
{"p":"c","s":2,"t":1999.95,"T":0.25,"R":0.20},
{"p":"c","s":2,"t":2000.04,"T":0.31,"R":0.22},
{"p":"c","s":2,"t":2000.13,"T":0.34,"R":0.235,"P":0.09},
{"p":"c","s":2,"t":2000.22,"T":0.34,"R":0.225},
{"p":"c","s":3,"t":2000.70,"T":0.11,"R":0.08,"P":0.05},
{"p":"c","s":3,"t":2000.79,"T":0.11,"R":0.09},
{"p":"c","s":3,"t":2000.87,"T":0.18,"R":0.12},
{"p":"c","s":3,"t":2000.96,"T":0.30,"R":0.25,"P":0.05},
{"p":"c","s":3,"t":2001.05,"T":0.225,"R":0.14},
{"p":"c","s":3,"t":2001.14,"T":0.12,"R":0.08},
{"p":"c","s":3,"t":2001.23,"T":0.18,"R":0.12,"P":0.05},
{"p":"c","s":3,"t":2001.35,"T":0.225,"R":0.16},
{"p":"c","s":3,"t":2001.44,"T":0.225,"R":0.13},
{"p":"c","s":3,"t":2001.53,"T":0.12,"R":0.08,"P":0.05},
{"p":"c","s":3,"t":2001.65,"T":0.10,"R":0.06},
{"p":"c","s":3,"t":2001.74,"T":0.14,"R":0.10},
{"p":"c","s":3,"t":2001.86,"T":0.20,"R":0.14,"P":0.05},
{"p":"c","s":3,"t":2001.95,"T":0.27,"R":0.21},
{"p":"c","s":3,"t":2002.04,"T":0.20,"R":0.14},
{"p":"c","s":3,"t":2002.15,"T":0.14,"R":0.09,"P":0.05},
{"p":"c","s":3,"t":2002.27,"T":0.13,"R":0.08},
{"p":"c","s":3,"t":2002.39,"T":0.12,"R":0.08},
{"p":"c","s":3,"t":2002.51,"T":0.12,"R":0.07,"P":0.05},
{"p":"c","s":3,"t":2002.63,"T":0.10,"R":0.06},
{"p":"c","s":3,"t":2002.75,"T":0.08,"R":0.05},
{"p":"c","s":3,"t":2002.87,"T":0.07,"R":0.05,"P":0.05},
{"p":"c","s":3,"t":2003.02,"T":0.10,"R":0.06},
{"p":"c","s":3,"t":2003.11,"T":0.26,"R":0.16},
{"p":"c","s":3,"t":2003.20,"T":0.20,"R":0.14,"P":0.05},
{"p":"c","s":3,"t":2003.29,"T":0.17,"R":0.12},
{"p":"c","s":3,"t":2003.41,"T":0.12,"R":0.07},
{"p":"c","s":3,"t":2003.52,"T":0.10,"R":0.05,"P":0.05},
{"p":"c","s":3,"t":2003.64,"T":0.06,"R":0.04},
{"p":"c","s":3,"t":2003.76,"T":0.06,"R":0.04},
{"p":"c","s":3,"t":2003.88,"T":0.06,"R":0.04,"P":0.04},
{"p":"c","s":3,"t":2003.97,"T":0.10,"R":0.07},
{"p":"c","s":3,"t":2004.03,"T":0.31,"R":0.225},
{"p":"c","s":3,"t":2004.12,"T":0.20,"R":0.14,"P":0.04},
{"p":"c","s":3,"t":2004.24,"T":0.10,"R":0.06},
{"p":"c","s":3,"t":2004.33,"T":0.12,"R":0.08},
{"p":"c","s":3,"t":2004.42,"T":0.09,"R":0.06,"P":0.04},
{"p":"c","s":3,"t":2004.54,"T":0.06,"R":0.03},
{"p":"c","s":3,"t":2004.66,"T":0.03,"R":0.02},
{"p":"c","s":3,"t":2004.77,"T":0.02,"R":0.02,"P":0.03},
{"p":"c","s":3,"t":2004.89,"T":0.04,"R":0.02},
{"p":"c","s":3,"t":2005.01,"T":0.08,"R":0.06},
{"p":"c","s":3,"t":2005.13,"T":0.10,"R":0.06,"P":0.04},
{"p":"c","s":3,"t":2005.25,"T":0.10,"R":0.08},
{"p":"c","s":3,"t":2005.37,"T":0.12,"R":0.09},
{"p":"c","s":3,"t":2005.49,"T":0.16,"R":0.12,"P":0.04},
{"p":"c","s":3,"t":2005.61,"T":0.27,"R":0.225},
{"p":"c","s":3,"t":2005.70,"T":0.18,"R":0.12},
{"p":"c","s":3,"t":2005.82,"T":0.10,"R":0.06,"P":0.04},
{"p":"c","s":3,"t":2005.93,"T":0.08,"R":0.04},
{"p":"c","s":3,"t":2006.05,"T":0.04,"R":0.02},
{"p":"c","s":3,"t":2006.14,"T":0.06,"R":0.03,"P":0.04},
{"p":"c","s":3,"t":2006.26,"T":0.18,"R":0.10},
{"p":"c","s":3,"t":2006.35,"T":0.29,"R":0.20},
{"p":"c","s":3,"t":2006.44,"T":0.20,"R":0.14,"P":0.04},
{"p":"c","s":3,"t":2006.56,"T":0.14,"R":0.08},
{"p":"c","s":3,"t":2006.68,"T":0.07,"R":0.05},
{"p":"c","s":3,"t":2006.80,"T":0.05,"R":0.03,"P":0.04},
{"p":"c","s":3,"t":2006.92,"T":0.04,"R":0.02},
{"p":"c","s":3,"t":2006.98,"T":0.01,"R":0.01,"P":0.04}
]},
"bounds":"flush",
"spacing":155,
"vconcat":[
{
"width":1878,"height":197,
"title":{"text":"Coffs Harbour (open forest)","dx":149,"dy":55},
"transform":[{"filter":"datum.p=='a'"}],
"layer":[
{"transform":[{"filter":"isValid(datum.T)"}],"mark":{"type":"line","color":"#222222","strokeWidth":2.6},
"encoding":{"x":{"field":"t","type":"quantitative","scale":{"domain":[1981,2007],"nice":false,"zero":false},"axis":{"orient":"bottom","values":[1981,1981.5,1982,1982.5,1983,1983.5,1984,1984.5,1985,1985.5,1986,1986.5,1987,1987.5,1988,1988.5,1989,1989.5,1990,1990.5,1991,1991.5,1992,1992.5,1993,1993.5,1994,1994.5,1995,1995.5,1996,1996.5,1997,1997.5,1998,1998.5,1999,1999.5,2000,2000.5,2001,2001.5,2002,2002.5,2003,2003.5,2004,2004.5,2005,2005.5,2006,2006.5,2007],"labels":false,"tickSize":{"condition":{"test":"datum.value%2==1","value":15},"value":8},"title":null}},
"y":{"field":"T","type":"quantitative","scale":{"domain":[0,1],"nice":false},"axis":{"orient":"left","values":[0,0.1,0.2,0.3,0.4,0.5,0.6,0.7,0.8,0.9,1],"labelExpr":"(datum.value<0.01||datum.value>0.99||abs(datum.value-0.5)<0.01)?format(datum.value,'.1f'):''","tickSize":{"condition":{"test":"datum.value<0.01||datum.value>0.99||abs(datum.value-0.5)<0.01","value":19},"value":10},"labelPadding":32,"title":"fPAR","titleFontSize":36,"titlePadding":20}},
"detail":{"field":"s","type":"nominal"}}},
{"transform":[{"filter":"isValid(datum.R)"}],"mark":{"type":"line","color":"#8a8a8a","strokeWidth":2.3},
"encoding":{"x":{"field":"t","type":"quantitative","scale":{"domain":[1981,2007],"nice":false,"zero":false},"axis":{"orient":"top","domain":false,"ticks":false,"labels":false,"title":"(a)","titleFontSize":58,"titleX":26,"titleY":-11,"titleAlign":"left","titleBaseline":"alphabetic","titleAnchor":"start"}},
"y":{"field":"R","type":"quantitative","scale":{"domain":[0,1],"nice":false},"axis":{"orient":"right","values":[0,0.1,0.2,0.3,0.4,0.5,0.6,0.7,0.8,0.9,1],"labels":false,"tickSize":{"condition":{"test":"datum.value<0.01||datum.value>0.99||abs(datum.value-0.5)<0.01","value":19},"value":10},"title":null}},
"detail":{"field":"s","type":"nominal"}}},
{"transform":[{"filter":"isValid(datum.P)"}],"mark":{"type":"line","color":"#333333","strokeWidth":2.6,"strokeDash":[3,10],"strokeCap":"butt"},
"encoding":{"x":{"field":"t","type":"quantitative","scale":{"domain":[1981,2007],"nice":false,"zero":false},"axis":null},
"y":{"field":"P","type":"quantitative","scale":{"domain":[0,1],"nice":false},"axis":null},
"detail":{"field":"s","type":"nominal"}}}
],
"resolve":{"axis":{"x":"independent","y":"independent"}}
},
{
"bounds":"flush",
"spacing":111,
"vconcat":[
{
"width":1878,"height":197,
"title":{"text":"Cowra (pasture and winter crops)","dx":19,"dy":56},
"transform":[{"filter":"datum.p=='b'"}],
"layer":[
{"transform":[{"filter":"isValid(datum.T)"}],"mark":{"type":"line","color":"#222222","strokeWidth":2.6},
"encoding":{"x":{"field":"t","type":"quantitative","scale":{"domain":[1981,2007],"nice":false,"zero":false},"axis":{"orient":"bottom","values":[1981,1981.5,1982,1982.5,1983,1983.5,1984,1984.5,1985,1985.5,1986,1986.5,1987,1987.5,1988,1988.5,1989,1989.5,1990,1990.5,1991,1991.5,1992,1992.5,1993,1993.5,1994,1994.5,1995,1995.5,1996,1996.5,1997,1997.5,1998,1998.5,1999,1999.5,2000,2000.5,2001,2001.5,2002,2002.5,2003,2003.5,2004,2004.5,2005,2005.5,2006,2006.5,2007],"labels":false,"tickSize":{"condition":{"test":"datum.value%2==1","value":15},"value":8},"title":null}},
"y":{"field":"T","type":"quantitative","scale":{"domain":[0,1],"nice":false},"axis":{"orient":"left","values":[0,0.1,0.2,0.3,0.4,0.5,0.6,0.7,0.8,0.9,1],"labelExpr":"(datum.value<0.01||datum.value>0.99||abs(datum.value-0.5)<0.01)?format(datum.value,'.1f'):''","tickSize":{"condition":{"test":"datum.value<0.01||datum.value>0.99||abs(datum.value-0.5)<0.01","value":19},"value":10},"labelPadding":32,"title":"fPAR","titleFontSize":36,"titlePadding":20}},
"detail":{"field":"s","type":"nominal"}}},
{"transform":[{"filter":"isValid(datum.R)"}],"mark":{"type":"line","color":"#8a8a8a","strokeWidth":2.3},
"encoding":{"x":{"field":"t","type":"quantitative","scale":{"domain":[1981,2007],"nice":false,"zero":false},"axis":{"orient":"top","domain":false,"ticks":false,"labels":false,"title":"(b)","titleFontSize":58,"titleX":26,"titleY":-23,"titleAlign":"left","titleBaseline":"alphabetic","titleAnchor":"start"}},
"y":{"field":"R","type":"quantitative","scale":{"domain":[0,1],"nice":false},"axis":{"orient":"right","values":[0,0.1,0.2,0.3,0.4,0.5,0.6,0.7,0.8,0.9,1],"labels":false,"tickSize":{"condition":{"test":"datum.value<0.01||datum.value>0.99||abs(datum.value-0.5)<0.01","value":19},"value":10},"title":null}},
"detail":{"field":"s","type":"nominal"}}},
{"transform":[{"filter":"isValid(datum.P)"}],"mark":{"type":"line","color":"#333333","strokeWidth":2.6,"strokeDash":[3,10],"strokeCap":"butt"},
"encoding":{"x":{"field":"t","type":"quantitative","scale":{"domain":[1981,2007],"nice":false,"zero":false},"axis":null},
"y":{"field":"P","type":"quantitative","scale":{"domain":[0,1],"nice":false},"axis":null},
"detail":{"field":"s","type":"nominal"}}}
],
"resolve":{"axis":{"x":"independent","y":"independent"}}
},
{
"width":1878,"height":162,
"title":{"text":"Longreach (tussock grassland)","dx":-36,"dy":74},
"transform":[{"filter":"datum.p=='c'"}],
"layer":[
{"transform":[{"filter":"isValid(datum.T)"}],"mark":{"type":"line","color":"#222222","strokeWidth":2.6},
"encoding":{"x":{"field":"t","type":"quantitative","scale":{"domain":[1981,2007],"nice":false,"zero":false},"axis":{"orient":"bottom","values":[1981,1981.5,1982,1982.5,1983,1983.5,1984,1984.5,1985,1985.5,1986,1986.5,1987,1987.5,1988,1988.5,1989,1989.5,1990,1990.5,1991,1991.5,1992,1992.5,1993,1993.5,1994,1994.5,1995,1995.5,1996,1996.5,1997,1997.5,1998,1998.5,1999,1999.5,2000,2000.5,2001,2001.5,2002,2002.5,2003,2003.5,2004,2004.5,2005,2005.5,2006,2006.5,2007],"labelExpr":"datum.value%2==1?format(datum.value,'d'):''","labelFontSize":36,"labelPadding":12,"tickSize":{"condition":{"test":"datum.value%2==1","value":14},"value":7},"title":null}},
"y":{"field":"T","type":"quantitative","scale":{"domain":[0,1],"nice":false},"axis":{"orient":"left","values":[0,0.1,0.2,0.3,0.4,0.5,0.6,0.7,0.8,0.9,1],"labelExpr":"(datum.value<0.01||datum.value>0.99||abs(datum.value-0.5)<0.01)?format(datum.value,'.1f'):''","tickSize":{"condition":{"test":"datum.value<0.01||datum.value>0.99||abs(datum.value-0.5)<0.01","value":19},"value":10},"labelPadding":32,"title":"fPAR","titleFontSize":36,"titlePadding":20}},
"detail":{"field":"s","type":"nominal"}}},
{"transform":[{"filter":"isValid(datum.R)"}],"mark":{"type":"line","color":"#8a8a8a","strokeWidth":2.3},
"encoding":{"x":{"field":"t","type":"quantitative","scale":{"domain":[1981,2007],"nice":false,"zero":false},"axis":{"orient":"top","domain":false,"ticks":false,"labels":false,"title":"(c)","titleFontSize":58,"titleX":26,"titleY":20,"titleAlign":"left","titleBaseline":"alphabetic","titleAnchor":"start"}},
"y":{"field":"R","type":"quantitative","scale":{"domain":[0,1],"nice":false},"axis":{"orient":"right","values":[0,0.1,0.2,0.3,0.4,0.5,0.6,0.7,0.8,0.9,1],"labels":false,"tickSize":{"condition":{"test":"datum.value<0.01||datum.value>0.99||abs(datum.value-0.5)<0.01","value":19},"value":10},"title":null}},
"detail":{"field":"s","type":"nominal"}}},
{"transform":[{"filter":"isValid(datum.P)"}],"mark":{"type":"line","color":"#333333","strokeWidth":2.6,"strokeDash":[3,10],"strokeCap":"butt"},
"encoding":{"x":{"field":"t","type":"quantitative","scale":{"domain":[1981,2007],"nice":false,"zero":false},"axis":null},
"y":{"field":"P","type":"quantitative","scale":{"domain":[0,1],"nice":false},"axis":null},
"detail":{"field":"s","type":"nominal"}}}
],
"resolve":{"axis":{"x":"independent","y":"independent"}}
}
]
}
]
}
